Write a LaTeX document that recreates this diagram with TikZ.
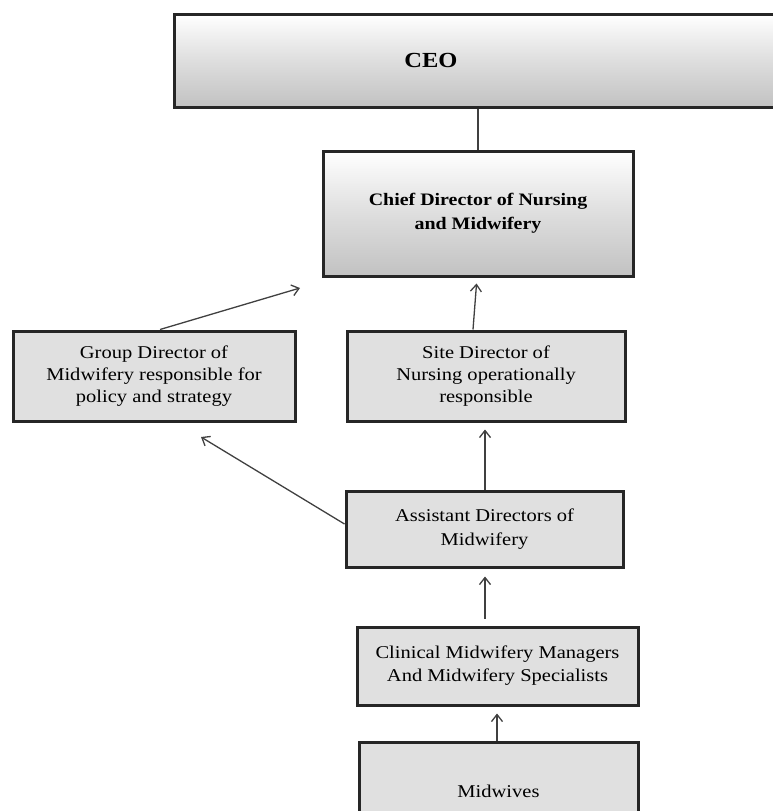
\documentclass[tikz,border=0pt]{standalone}
\usepackage{fontspec}
\setmainfont[FakeStretch=1.14]{Liberation Serif}
\usetikzlibrary{arrows.meta,calc}
\begin{document}
\begin{tikzpicture}[x=1pt,y=-1pt,
  box/.style={draw=black!85, line width=3pt, align=center, inner sep=0pt},
  grad/.style={box, top color=white, bottom color=black!24, middle color=black!13},
  flat/.style={box, fill=black!12},
  txt/.style={font=\fontsize{18}{22}\selectfont},
  conn/.style={draw=black!75, line width=1.3pt},
  arr/.style={conn, -{Straight Barb[length=7pt,width=11pt,line width=1.3pt]}}]
\useasboundingbox (0,0) rectangle (773,811);
\clip (0,0) rectangle (773,811);
\node[grad, minimum width=604pt, minimum height=93pt, font=\bfseries\fontsize{21.5}{26}\selectfont] (ceo) at (476,60.5) {CEO\hspace*{90pt}};
\node[grad, minimum width=310pt, minimum height=125pt, font=\bfseries\fontsize{17.5}{24}\selectfont] (chief) at (478,213.5) {Chief Director of Nursing\\and Midwifery};
\node[flat, txt, minimum width=282pt, minimum height=90pt] (group) at (154,376) {Group Director of\\Midwifery responsible for\\policy and strategy};
\node[flat, txt, minimum width=278pt, minimum height=90pt] (site) at (486,376) {Site Director of\\Nursing operationally\\responsible};
\node[flat, minimum width=277pt, minimum height=76pt, font=\fontsize{18}{23.5}\selectfont] (asst) at (484.5,529) {Assistant Directors of\\Midwifery};
\node[flat, minimum width=281pt, minimum height=78pt, font=\fontsize{18}{23}\selectfont] (clin) at (497.5,666) {Clinical Midwifery Managers\\And Midwifery Specialists};
\node[flat, txt, minimum width=279pt, minimum height=98pt] (mid) at (498.5,791) {Midwives};
\coordinate (g2c) at (300,288);
\coordinate (a2g) at (201,437);
\draw[conn] (ceo.south -| chief.north) -- (chief.north);
\draw[arr] ($(group.north)+(6,0)$) -- (g2c);
\draw[arr, shorten >=6pt] ($(site.north)+(-13,0)$) -- ($(chief.south)+(-1,0)$);
\draw[arr, shorten >=7pt] (asst.north -| 485,0) -- (site.south -| 485,0);
\draw[arr] ($(asst.west)+(0,-5)$) -- (a2g);
\draw[arr, shorten <=7pt, shorten >=8pt] (clin.north -| 485,0) -- (asst.south -| 485,0);
\draw[arr, shorten >=7pt] (mid.north -| 497,0) -- (clin.south -| 497,0);
\end{tikzpicture}
\end{document}
